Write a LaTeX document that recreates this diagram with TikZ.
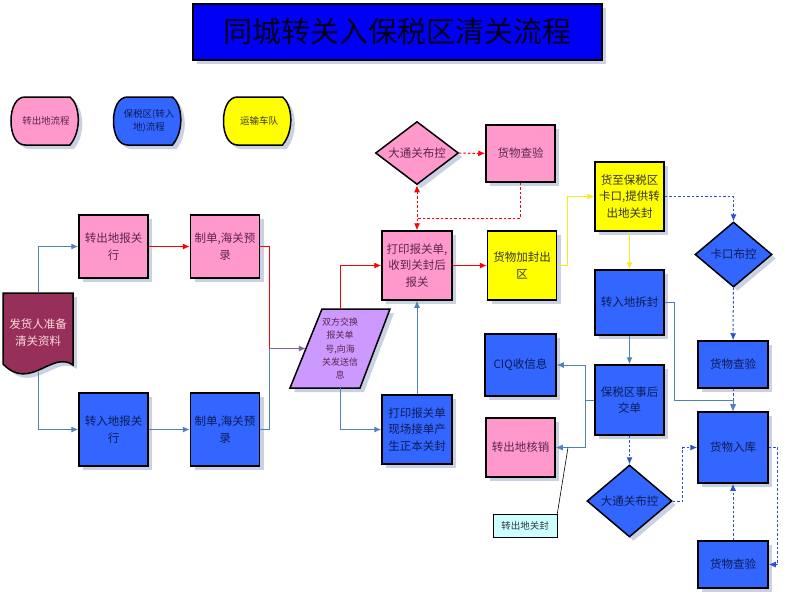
\documentclass[tikz,border=0pt]{standalone}
\usepackage{fontspec}
\setmainfont{Noto Sans CJK SC}
\usepackage{tikz}
\usetikzlibrary{positioning,shapes.geometric,shadows,arrows.meta}
\definecolor{boxpink}{HTML}{FF99CC}
\definecolor{boxblue}{HTML}{3366FF}
\definecolor{boxyellow}{HTML}{FFFF00}
\definecolor{boxmaroon}{HTML}{96305A}
\definecolor{boxlilac}{HTML}{CC99FF}
\definecolor{notecyan}{HTML}{CCFFFF}
\definecolor{titleblue}{HTML}{0000F5}
\definecolor{shadowgray}{HTML}{C9D1E3}
\definecolor{lineblue}{HTML}{4F81BD}
\definecolor{linepurple}{HTML}{8064A2}
\definecolor{lineyellow}{HTML}{F5EE1A}
\definecolor{pinktext}{HTML}{5E2450}
\definecolor{bluetext}{HTML}{0B1D55}
\newcommand{\flowfont}{\fontsize{11.5}{16.5}\selectfont}
\newcommand{\smallflowfont}{\fontsize{9.5}{12.5}\selectfont}

\begin{document}
\begin{tikzpicture}[x=1pt,y=-1pt,>={Latex[length=7pt,width=6pt]},
                    shade/.style={drop shadow={shadow xshift=4pt,shadow yshift=-4pt,fill=shadowgray,opacity=1}},
                    box/.style={draw=black, line width=1.5pt, align=center, inner sep=2pt,
                                font=\flowfont, shade},
                    pinkbox/.style={box, fill=boxpink, text=pinktext},
                    bluebox/.style={box, fill=boxblue, text=bluetext},
                    yellowbox/.style={box, fill=boxyellow, text=black!80},
                    decide/.style={box, diamond, aspect=1.3, inner sep=0pt},
                    textonly/.style={align=center, inner sep=0pt},
                    legend/.style={draw=black, line width=1.5pt, shade},
                    flow/.style={draw=lineblue, line width=1pt},
                    redflow/.style={draw=red, line width=1pt},
                    dotflow/.style={flow, draw=boxblue!80!black, dash pattern=on 2.5pt off 2pt},
                    reddot/.style={redflow, dash pattern=on 2.5pt off 2pt}]
\useasboundingbox (0,0) rectangle (809,597);

\node[box, fill=titleblue, text=black!90!blue, line width=1.2pt, minimum width=409pt, minimum height=56pt,
      font=\fontsize{29}{32}\selectfont] (title) at (397.5,32) {同城转关入保税区清关流程};

\foreach \x/\c in {45.5/boxpink,148/boxblue,258/boxyellow}
  \draw[legend, fill=\c, shift={(\x,121)}] (-34.5,0) .. controls (-34.5,-14) and (-29,-24) .. (-20.5,-24)
    -- (24.5,-24) .. controls (34,-17) and (37,9) .. (24.5,24) -- (-20.5,24)
    .. controls (-29,24) and (-34.5,14) .. (-34.5,0) -- cycle;
\node[textonly, font=\smallflowfont, text=pinktext] (legout) at (46,121) {转出地流程};
\node[textonly, font=\smallflowfont, text=bluetext] (legin) at (149,121) {保税区(转入\\地)流程};
\node[textonly, font=\smallflowfont, text=black!80] (legtruck) at (259,121) {运输车队};

\draw[legend, fill=boxmaroon] (3,293) -- (73,293) -- (73,365) .. controls (52,350) and (30,392) .. (3,364) -- cycle;
\node[textonly, text=pink!60!white, font=\flowfont, minimum width=70pt, minimum height=79pt] (shipper) at (38,332.5) {发货人准备\\清关资料};

\node[pinkbox, minimum width=69pt, minimum height=63pt] (outagent) at (113.5,246.5) {转出地报关\\行};
\node[pinkbox, minimum width=69pt, minimum height=63pt, right=41pt of outagent] (outprep) {制单,海关预\\录};
\node[bluebox, minimum width=69pt, minimum height=73pt] (inagent) at (113.5,429.5) {转入地报关\\行};
\node[bluebox, minimum width=69pt, minimum height=73pt, right=41pt of inagent] (inprep) {制单,海关预\\录};

\draw[legend, fill=boxlilac] (322,309) -- (390,309) -- (360,388) -- (290,388) -- cycle;
\node[textonly, text=pinktext, font=\fontsize{9}{13.3}\selectfont, minimum width=68pt, minimum height=79pt] (exchange) at (340,348.5) {双方交换\\报关单\\号,向海\\关发送信\\息};

\node[decide, fill=boxpink, text=pinktext, minimum width=83pt, minimum height=63pt] (control) at (417,153) {大通关布控};
\node[pinkbox, minimum width=69pt, minimum height=57pt] (checkout) at (520.5,153.5) {货物查验};
\node[pinkbox, minimum width=70pt, minimum height=69pt] (print) at (417,265.5) {打印报关单,\\收到关封后\\报关};
\node[yellowbox, minimum width=69pt, minimum height=69pt, right=34pt of print] (sealout) {货物加封出\\区};
\node[bluebox, minimum width=70pt, minimum height=69pt] (original) at (417,429.5) {打印报关单\\现场接单产\\生正本关封};
\node[bluebox, minimum width=71pt, minimum height=62pt] (ciq) at (520.5,365) {CIQ收信息};
\node[pinkbox, minimum width=69pt, minimum height=59pt] (writeoff) at (520.5,447.5) {转出地核销};

\node[yellowbox, minimum width=69pt, minimum height=69pt] (arrive) at (629.5,196.5) {货至保税区\\卡口,提供转\\出地关封};
\node[bluebox, minimum width=69pt, minimum height=65pt] (unseal) at (629.5,302.5) {转入地拆封};
\node[bluebox, minimum width=69pt, minimum height=70pt] (afterdoc) at (629.5,400) {保税区事后\\交单};
\node[decide, fill=boxblue, text=bluetext, minimum width=85pt, minimum height=72pt] (control2) at (629.5,501) {大通关布控};
\node[decide, fill=boxblue, text=bluetext, minimum width=77pt, minimum height=65pt] (gate) at (733.5,254.5) {卡口布控};
\node[bluebox, minimum width=70pt, minimum height=47pt] (checkgate) at (733,364.5) {货物查验};
\node[bluebox, minimum width=70pt, minimum height=71pt] (storage) at (733,447.5) {货物入库};
\node[bluebox, minimum width=70pt, minimum height=47pt] (checkin) at (733,564.5) {货物查验};
\node[draw=black, line width=0.6pt, fill=notecyan, text=black!80, font=\smallflowfont,
      minimum width=64pt, minimum height=23pt, inner sep=0pt] (sealnote) at (525,525.5) {转出地关封};

\coordinate (merge) at (269,348.5);
\coordinate (ctrljoin) at (417,218);
\coordinate (into) at (733,400);
\coordinate (split) at (585,400);
\coordinate (notept) at (568,447.5);

\draw[flow, ->] (shipper.north) |- (outagent.west);
\draw[flow, ->] (shipper.south) |- (inagent.west);
\draw[redflow, ->] (outagent) -- (outprep);
\draw[flow, ->] (inagent) -- (inprep);
\draw[redflow] (outprep.east) -| (merge);
\draw[flow] (inprep.east) -| (merge);
\draw[flow, draw=linepurple, ->] (merge) -- (exchange.west);
\draw[redflow, ->] (exchange.north) |- (print.west);
\draw[flow, ->] (exchange.south) |- (original.west);
\draw[flow, ->] (original) -- (print);
\draw[redflow, ->] (print) -- (sealout);
\draw[reddot, ->] (control) -- (checkout);
\draw[reddot] (checkout.south) |- (ctrljoin);
\draw[reddot, <->] (control.south) -- (print.north);
\draw[flow, draw=lineyellow, ->] (sealout.east) -- ++(10,0) |- (arrive.west);
\draw[flow, draw=lineyellow, ->] (arrive) -- (unseal);
\draw[dotflow, ->] (arrive.east) -| (gate.north);
\draw[dotflow, ->] (gate) -- (checkgate);
\draw[dotflow, ->] (checkgate) -- (storage);
\draw[flow, ->] (unseal.east) -- ++(10,0) |- (into) -- (storage.north);
\draw[flow, ->] (unseal) -- (afterdoc);
\draw[flow] (afterdoc.west) -- (split);
\draw[flow, ->] (split) |- (ciq.east);
\draw[flow, ->] (split) |- (writeoff.east);
\draw[dotflow, ->] (afterdoc) -- (control2);
\draw[dotflow, ->] (control2.east) -- ++(10,0) |- (storage.west);
\draw[dotflow, ->] (storage.east) -- ++(9,0) |- (checkin.east);
\draw[dotflow, ->] (checkin) -- (storage);
\draw[black, line width=0.6pt] (sealnote.north east) -- (notept);
\end{tikzpicture}
\end{document}
